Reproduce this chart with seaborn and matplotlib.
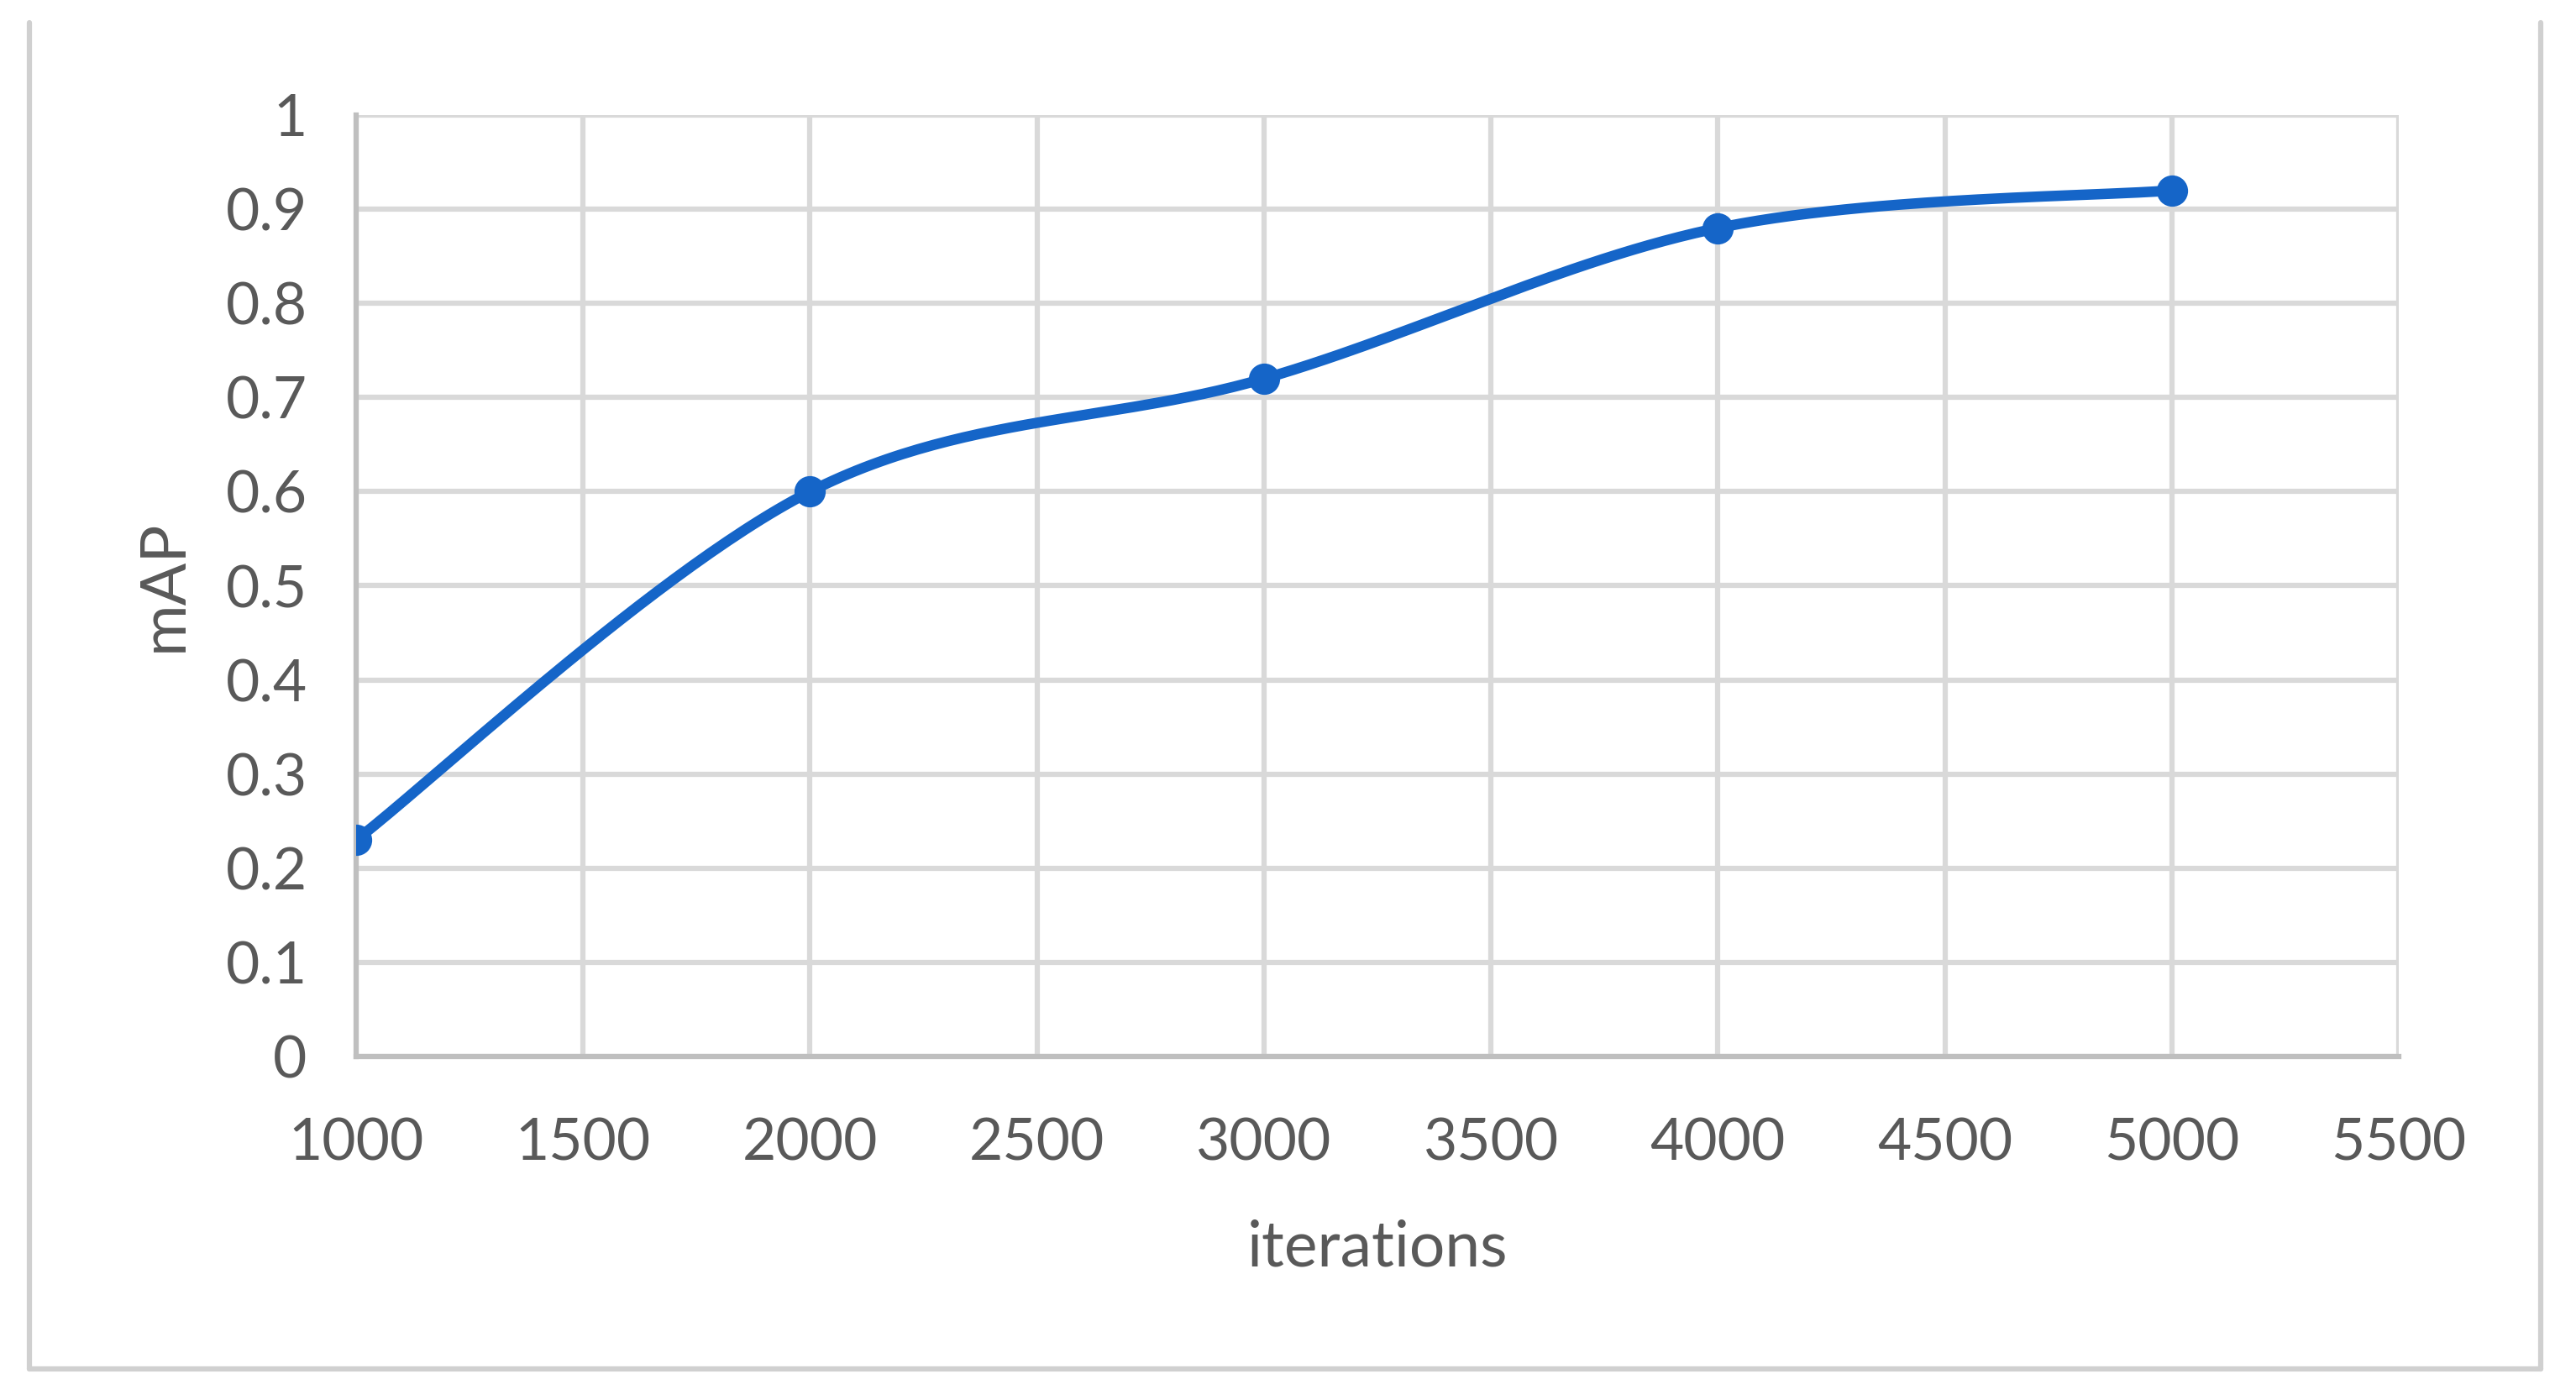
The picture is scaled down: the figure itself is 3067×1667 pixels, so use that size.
import numpy as np
import pandas as pd
import matplotlib
matplotlib.use("Agg")
import matplotlib.pyplot as plt
from matplotlib.lines import Line2D
import seaborn as sns

# ---- data ----
iterations = [1000, 2000, 3000, 4000, 5000]
map_values = [0.23, 0.60, 0.72, 0.88, 0.92]
x_ticks = [1000, 1500, 2000, 2500, 3000, 3500, 4000, 4500, 5000, 5500]
y_ticks = [0, 0.1, 0.2, 0.3, 0.4, 0.5, 0.6, 0.7, 0.8, 0.9, 1]
y_tick_labels = ["0", "0.1", "0.2", "0.3", "0.4", "0.5", "0.6", "0.7", "0.8", "0.9", "1"]
x_label = "iterations"
y_label = "mAP"

sns.set_theme(style="white")
plt.rcParams['font.family'] = ['Lato', 'DejaVu Sans']

TEXT = '#595959'
GRID = '#D9D9D9'
AXIS = '#BFBFBF'
BLUE = '#1565C8'

fig = plt.figure(figsize=(30.67, 16.67), dpi=100)
fig.patch.set_facecolor('white')
ax = fig.add_axes([424/3067, 1 - 1258/1667, (2856-424)/3067, (1258-137)/1667])

# smoothed line (Excel-style Bezier / Catmull-Rom through the data points)
px = np.array(iterations, dtype=float)
py = np.array(map_values, dtype=float)
P = np.column_stack([px, py])
Pext = np.vstack([P[0], P, P[-1]])
cx, cy = [], []
t = np.linspace(0, 1, 60)
for i in range(len(P) - 1):
    p0, p1, p2, p3 = Pext[i], Pext[i+1], Pext[i+2], Pext[i+3]
    c1 = p1 + (p2 - p0) / 6.0
    c2 = p2 - (p3 - p1) / 6.0
    b = ((1-t)**3)[:, None]*p1 + (3*(1-t)**2*t)[:, None]*c1 + (3*(1-t)*t**2)[:, None]*c2 + (t**3)[:, None]*p2
    if i > 0:
        b = b[1:]
    cx.extend(b[:, 0]); cy.extend(b[:, 1])
curve = pd.DataFrame({'iterations': cx, 'mAP': cy, 'order': np.arange(len(cx))})
pts = pd.DataFrame({'iterations': iterations, 'mAP': map_values})

sns.lineplot(data=curve, x='iterations', y='mAP', sort=False, estimator=None,
             color=BLUE, linewidth=9, ax=ax, zorder=3, solid_capstyle='round')
sns.scatterplot(data=pts, x='iterations', y='mAP', color=BLUE, s=720,
                edgecolor=BLUE, linewidth=0, ax=ax, zorder=4)

ax.set_xlim(1000, 5500)
ax.set_ylim(0, 1)
ax.set_xticks(x_ticks)
ax.set_xticklabels([str(v) for v in x_ticks])
ax.set_yticks(y_ticks)
ax.set_yticklabels(y_tick_labels)
ax.grid(True, color=GRID, linewidth=4.5)
ax.set_axisbelow(True)
for s in ['top', 'right']:
    ax.spines[s].set_visible(False)
for s in ['left', 'bottom']:
    ax.spines[s].set_color(AXIS)
    ax.spines[s].set_linewidth(4.5)
ax.tick_params(axis='both', length=0, labelsize=50, colors=TEXT)
ax.tick_params(axis='y', pad=42)
ax.tick_params(axis='x', pad=52)
ax.set_xlabel(x_label, fontsize=54, color=TEXT, labelpad=42)
ax.set_ylabel(y_label, fontsize=54, color=TEXT, labelpad=28)

# outer frame (chart area border)
W, H = 3067, 1667
fc = '#D0D0D0'
for (x0, y0, x1, y1) in [(35, 27, 35, 1630), (3025, 27, 3025, 1630), (35, 1630, 3025, 1630)]:
    fig.add_artist(Line2D([x0/W, x1/W], [1 - y0/H, 1 - y1/H], color=fc, linewidth=4.5,
                          transform=fig.transFigure))

fig.savefig('out.png', dpi=100)
